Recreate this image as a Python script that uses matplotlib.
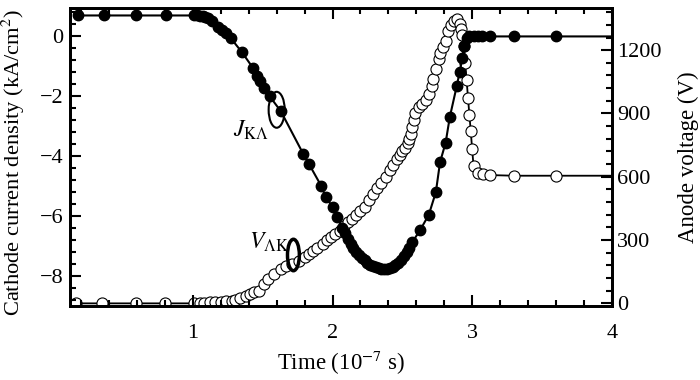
import matplotlib
matplotlib.use("Agg")
import matplotlib.pyplot as plt
from matplotlib.patches import Ellipse
from matplotlib.ticker import MultipleLocator

plt.rcParams['font.family'] = ['Liberation Serif', 'DejaVu Serif']
plt.rcParams['mathtext.fontset'] = 'stix'

# cathode current density (kA/cm^2), filled circles
t_j = [0.18, 0.36, 0.59, 0.81, 1.01, 1.03, 1.05, 1.07, 1.09, 1.11, 1.14, 1.18, 1.21, 1.24, 1.27,
       1.35, 1.43, 1.46, 1.48, 1.51, 1.55, 1.63, 1.79, 1.83, 1.92, 1.95, 2.00, 2.03, 2.07, 2.09,
       2.11, 2.13, 2.15, 2.17, 2.19, 2.21, 2.23, 2.25, 2.27, 2.29, 2.31, 2.33, 2.35, 2.37, 2.39,
       2.41, 2.43, 2.45, 2.47, 2.49, 2.51, 2.53, 2.55, 2.57, 2.63, 2.69, 2.74, 2.77, 2.81, 2.84,
       2.89, 2.91, 2.93, 2.94, 2.96, 2.98, 3.01, 3.04, 3.07, 3.13, 3.30, 3.60, 4.00]
j_ka = [0.70, 0.70, 0.70, 0.70, 0.70, 0.70, 0.69, 0.68, 0.66, 0.62, 0.52, 0.32, 0.22, 0.10, -0.05,
        -0.52, -1.05, -1.32, -1.50, -1.72, -2.00, -2.50, -3.92, -4.25, -5.00, -5.35, -5.70, -6.02, -6.40, -6.55,
        -6.76, -6.92, -7.06, -7.19, -7.30, -7.40, -7.48, -7.56, -7.62, -7.67, -7.71, -7.74, -7.76, -7.77, -7.76,
        -7.74, -7.70, -7.64, -7.56, -7.46, -7.34, -7.20, -7.05, -6.88, -6.45, -5.95, -5.20, -4.20, -3.55, -2.69,
        -1.65, -1.20, -0.72, -0.32, -0.06, 0.0, 0.0, 0.0, 0.0, 0.0, 0.0, 0.0, 0.0]

# anode voltage (V), open circles
t_v = [0.16, 0.35, 0.59, 0.80, 1.01, 1.05, 1.08, 1.12, 1.16, 1.20, 1.24, 1.28, 1.30, 1.34, 1.38,
       1.41, 1.44, 1.47, 1.51, 1.54, 1.58, 1.63, 1.67, 1.71, 1.76, 1.80, 1.83, 1.86, 1.89, 1.93,
       1.96, 1.99, 2.02, 2.05, 2.08, 2.11, 2.14, 2.17, 2.20, 2.23, 2.26, 2.29, 2.32, 2.35, 2.38,
       2.41, 2.43, 2.46, 2.48, 2.50, 2.52, 2.54, 2.55, 2.56, 2.57, 2.58, 2.59, 2.62, 2.64, 2.67,
       2.69, 2.71, 2.72, 2.74, 2.76, 2.77, 2.79, 2.81, 2.83, 2.85, 2.87, 2.89, 2.91, 2.92, 2.93,
       2.94, 2.95, 2.96, 2.97, 2.98, 2.99, 3.00, 3.01, 3.04, 3.08, 3.13, 3.30, 3.60, 4.00]
v_ak = [0, 0, 0, 0, 0, 2, 3, 5, 6, 8, 10, 12, 15, 24, 35,
        43, 52, 60, 90, 114, 138, 161, 175, 188, 200, 222, 235, 248, 262, 282,
        300, 315, 330, 345, 365, 385, 400, 418, 436, 458, 488, 517, 545, 570, 600,
        630, 655, 683, 705, 720, 738, 758, 780, 805, 835, 870, 900, 930, 945, 965,
        990, 1030, 1062, 1110, 1160, 1185, 1215, 1245, 1290, 1320, 1340, 1348, 1325, 1300, 1270,
        1220, 1140, 1060, 975, 895, 815, 730, 650, 618, 612, 608, 605, 605, 605]

fig = plt.figure(figsize=(7, 3.8), dpi=100)
ax1 = fig.add_axes([0.1, 0.195, 0.774, 0.784])
ax2 = ax1.twinx()
ax1.set_zorder(2)
ax1.patch.set_visible(False)

ax2.plot(t_v, v_ak, color='black', lw=1.3, marker='o', ms=8, mfc='white', mec='black',
         mew=0.8, markevery=slice(0, len(t_v) - 1))
ax1.plot(t_j, j_ka, color='black', lw=1.5, marker='o', ms=7.5, mfc='black', mec='black',
         markevery=slice(0, len(t_j) - 1))

ax1.set_xlim(0.12, 4.0)
ax1.set_ylim(-9.0, 0.95)
ax2.set_ylim(-12, 1400)

ax1.xaxis.set_major_locator(MultipleLocator(1))
ax1.xaxis.set_minor_locator(MultipleLocator(0.2))
ax1.yaxis.set_major_locator(MultipleLocator(2))
ax1.yaxis.set_minor_locator(MultipleLocator(0.4))
ax2.yaxis.set_major_locator(MultipleLocator(300))
ax2.yaxis.set_minor_locator(MultipleLocator(60))

ax1.tick_params(which='both', direction='in', top=True, right=False, width=1.5, labelsize=16)
ax1.tick_params(which='major', length=8)
ax1.tick_params(which='minor', length=4)
ax1.tick_params(axis='x', which='major', pad=13)
ax1.tick_params(axis='y', which='major', pad=5)
ax2.tick_params(which='both', direction='in', width=1.5, labelsize=16, pad=4)
ax2.tick_params(which='major', length=8)
ax2.tick_params(which='minor', length=4)

for ax in (ax1, ax2):
    for s in ax.spines.values():
        s.set_linewidth(2)

ax1.set_xlabel('Time (10$^{-7}$ s)', fontsize=16.5, labelpad=4)
ax1.set_ylabel('Cathode current density (kA/cm$^{2}$)', fontsize=16.2)
ax1.yaxis.set_label_coords(-0.08, 0.48)
ax2.set_ylabel('Anode voltage (V)', fontsize=16.5)
ax2.yaxis.set_label_coords(1.122, 0.5)

# curve markers
ax1.add_patch(Ellipse((1.60, -2.45), 0.115, 1.2, fill=False, lw=1.5, color='black'))
ax1.add_patch(Ellipse((1.72, -7.3), 0.085, 1.05, fill=False, lw=2.5, color='black'))
ax1.text(1.29, -3.35, r'$J_{\mathrm{K\Lambda}}$', fontsize=17, va='baseline')
ax1.text(1.40, -7.1, r'$V_{\mathrm{\Lambda K}}$', fontsize=17, va='baseline')

fig.savefig('out.png', dpi=100)
